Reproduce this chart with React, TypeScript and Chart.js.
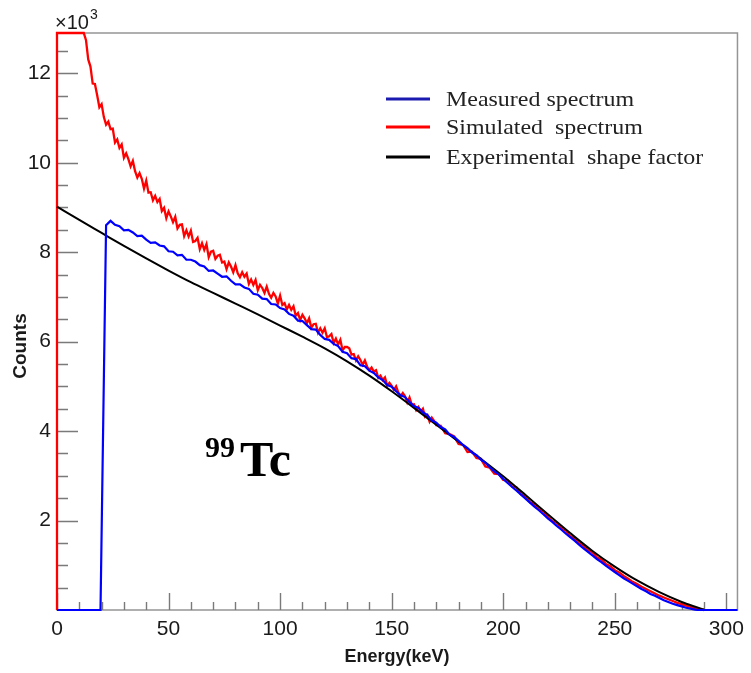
import { useEffect, useRef } from 'react';
import { Chart, registerables } from 'chart.js';

Chart.register(...registerables);

// ---- axis ranges / tick labels ----
const X_MIN = 0;
const X_MAX = 305;
const Y_MIN = 0;
const Y_MAX = 12.9; // ×10^3 counts
const X_TICK_STEP = 50;
const Y_TICK_STEP = 2;

// ---- legend ----
const SERIES_NAMES = ['Measured spectrum', 'Simulated  spectrum', 'Experimental  shape factor'];
const SERIES_COLORS = ['#0000ff', '#ff0000', '#000000'];

// ---- simulated spectrum (red), values in 10^3 counts ----
const RED_HEAD_E = [0, 0, 12];
const RED_HEAD_V = [0, 12.9, 12.9];
const RED_FINE_START = 13; // 1 keV bins
const RED_FINE_STEP = 1;
const RED_FINE = [
  12.74, 12.31, 12.15, 11.77, 11.76, 11.51, 11.24, 11.31, 11.02, 10.85,
  10.92, 10.75, 10.76, 10.45, 10.52, 10.33, 10.41, 10.11, 10.21, 10.08,
  9.92, 10.04, 9.81, 9.67, 9.77, 9.64, 9.42, 9.60, 9.33, 9.34,
  9.16, 9.26, 9.12, 9.19, 8.92, 8.99, 8.76, 8.91, 8.80, 8.67,
  8.79, 8.53, 8.61, 8.62, 8.36, 8.49, 8.35, 8.48, 8.23, 8.25,
  8.32, 8.07, 8.20, 8.05, 8.18, 7.89, 8.01, 8.03, 7.85, 7.92,
  7.94, 7.77, 7.79, 7.62, 7.77, 7.68, 7.55, 7.71, 7.53, 7.44,
  7.55, 7.45, 7.52, 7.29, 7.39, 7.27, 7.38, 7.15, 7.27, 7.20,
  7.09, 7.23, 7.07, 6.98, 7.09, 7.01, 6.85, 7.03, 6.82, 6.86,
  6.72, 6.82, 6.71, 6.79, 6.58, 6.64, 6.48, 6.60, 6.52, 6.41,
  6.52, 6.31, 6.39, 6.40, 6.20, 6.30, 6.20, 6.30, 6.10, 6.12,
  6.17, 5.97, 6.07, 5.94, 6.04, 5.80, 5.88, 5.88, 5.85, 5.71,
  5.72, 5.58, 5.67, 5.59, 5.48, 5.58, 5.44, 5.36, 5.42, 5.33,
  5.36, 5.19, 5.24, 5.14, 5.20, 5.02, 5.08, 5.01, 4.92, 5.00,
  4.86, 4.78, 4.85, 4.78, 4.64, 4.75, 4.59, 4.60, 4.47, 4.54,
  4.44, 4.50, 4.32, 4.36, 4.21, 4.30, 4.23, 4.13,
];
const RED_COARSE_START = 172; // 2 keV bins
const RED_COARSE_STEP = 2;
const RED_COARSE = [
  4.12, 3.95, 3.93, 3.88, 3.71, 3.69, 3.53, 3.54, 3.40, 3.38,
  3.21, 3.18, 3.05, 3.04, 2.91, 2.90, 2.76, 2.74, 2.58, 2.54,
  2.41, 2.37, 2.25, 2.21, 2.08, 1.99, 1.95, 1.83, 1.78, 1.65,
  1.60, 1.49, 1.44, 1.34, 1.29, 1.18, 1.13, 1.03, 0.98, 0.89,
  0.84, 0.76, 0.70, 0.63, 0.58, 0.52, 0.47, 0.42, 0.37, 0.32,
  0.28, 0.24, 0.20, 0.16, 0.13, 0.10, 0.07, 0.04, 0.02, 0.00,
];

// ---- measured spectrum (blue) ----
const BLUE_HEAD_E = [0, 19.5];
const BLUE_HEAD_V = [0, 0];
const BLUE_START = 22; // 2 keV bins
const BLUE_STEP = 2;
const BLUE = [
  8.60, 8.70, 8.61, 8.58, 8.49, 8.50, 8.44, 8.36, 8.37, 8.28,
  8.21, 8.22, 8.15, 8.13, 8.02, 8.01, 7.93, 7.94, 7.83, 7.83,
  7.79, 7.71, 7.68, 7.58, 7.59, 7.52, 7.45, 7.46, 7.36, 7.28,
  7.28, 7.21, 7.18, 7.07, 7.05, 6.96, 6.95, 6.84, 6.83, 6.75,
  6.72, 6.62, 6.58, 6.47, 6.46, 6.37, 6.28, 6.27, 6.15, 6.06,
  6.04, 5.95, 5.90, 5.77, 5.74, 5.63, 5.61, 5.47, 5.45, 5.35,
  5.30, 5.20, 5.14, 5.03, 4.99, 4.89, 4.80, 4.76, 4.65, 4.56,
  4.52, 4.42, 4.36, 4.24, 4.19, 4.09, 4.04, 3.92, 3.87, 3.78,
  3.69, 3.62, 3.52, 3.46, 3.36, 3.29, 3.19, 3.10, 3.03, 2.93,
  2.84, 2.75, 2.67, 2.58, 2.49, 2.40, 2.31, 2.23, 2.14, 2.05,
  1.97, 1.88, 1.80, 1.71, 1.63, 1.55, 1.46, 1.38, 1.30, 1.22,
  1.14, 1.07, 0.99, 0.92, 0.85, 0.78, 0.71, 0.65, 0.59, 0.53,
  0.47, 0.42, 0.36, 0.32, 0.27, 0.22, 0.18, 0.14, 0.11, 0.08,
  0.05, 0.03, 0.01,
];
const BLUE_TAIL_E = [287, 305];
const BLUE_TAIL_V = [0, 0];

// ---- experimental shape factor (black) ----
const BLACK_E = [0, 10, 20, 30, 40, 50, 60, 70, 80, 90, 100, 110, 120, 130, 140, 150, 160, 170, 180, 190, 200, 210, 220, 230, 240, 250, 260, 270, 280, 285, 290];
const BLACK_V = [9.02, 8.72, 8.43, 8.14, 7.86, 7.59, 7.33, 7.09, 6.85, 6.61, 6.36, 6.11, 5.85, 5.56, 5.24, 4.89, 4.52, 4.14, 3.76, 3.38, 2.99, 2.57, 2.14, 1.72, 1.32, 0.97, 0.66, 0.40, 0.18, 0.09, 0.01];

type P = { x: number; y: number };
const pairs = (es: number[], vs: number[]): P[] => vs.map((v, i) => ({ x: es[i], y: v }));
const binned = (start: number, step: number, vs: number[]): P[] => vs.map((v, i) => ({ x: start + i * step, y: v }));

const redData: P[] = [
  ...pairs(RED_HEAD_E, RED_HEAD_V),
  ...binned(RED_FINE_START, RED_FINE_STEP, RED_FINE),
  ...binned(RED_COARSE_START, RED_COARSE_STEP, RED_COARSE),
];
const blueData: P[] = [
  ...pairs(BLUE_HEAD_E, BLUE_HEAD_V),
  ...binned(BLUE_START, BLUE_STEP, BLUE),
  ...pairs(BLUE_TAIL_E, BLUE_TAIL_V),
];
const blackData: P[] = pairs(BLACK_E, BLACK_V);

const FONT_SANS = '"Liberation Sans", Arial, Helvetica, sans-serif';
const FONT_SERIF = '"Liberation Serif", "Times New Roman", serif';
const EDGE_CLIP = { left: 3, top: 3, right: 3, bottom: 3 };

const decoPlugin = {
  id: 'deco',
  beforeDatasetsDraw(chart: any) {
    const { ctx, chartArea: a, scales } = chart;
    const xs = scales.x;
    const ys = scales.y;
    ctx.save();
    // frame
    ctx.strokeStyle = '#959595';
    ctx.lineWidth = 1.5;
    ctx.strokeRect(a.left, a.top, a.right - a.left, a.bottom - a.top);
    // inward ticks
    ctx.strokeStyle = '#7a7a7a';
    ctx.lineWidth = 1.4;
    ctx.beginPath();
    for (let v = X_MIN; v <= 300; v += 10) {
      const px = Math.round(xs.getPixelForValue(v)) + 0.5;
      const len = v % X_TICK_STEP === 0 ? 17 : 8;
      ctx.moveTo(px, a.bottom);
      ctx.lineTo(px, a.bottom - len);
    }
    for (let k = 1; k * 0.5 < Y_MAX; k++) {
      const v = k * 0.5;
      const py = Math.round(ys.getPixelForValue(v)) + 0.5;
      const len = k % 4 === 0 ? 21 : 11;
      ctx.moveTo(a.left, py);
      ctx.lineTo(a.left + len, py);
    }
    ctx.stroke();
    ctx.restore();
  },
  afterDraw(chart: any) {
    const { ctx } = chart;
    ctx.save();
    ctx.fillStyle = '#1a1a1a';
    // ×10^3 multiplier
    ctx.textBaseline = 'alphabetic';
    ctx.textAlign = 'left';
    ctx.font = `20px ${FONT_SANS}`;
    ctx.fillText('×10', 55, 29);
    const w = ctx.measureText('×10').width;
    ctx.font = `14px ${FONT_SANS}`;
    ctx.fillText('3', 55 + w + 1, 19);

    // axis titles
    ctx.font = `bold 18px ${FONT_SANS}`;
    ctx.textAlign = 'center';
    ctx.textBaseline = 'middle';
    ctx.fillText('Energy(keV)', 397, 657);
    ctx.save();
    ctx.translate(21, 346);
    ctx.rotate(-Math.PI / 2);
    ctx.font = `bold 19px ${FONT_SANS}`;
    ctx.fillText('Counts', 0, 0);
    ctx.restore();

    // 99Tc label
    ctx.fillStyle = '#000';
    ctx.textAlign = 'left';
    ctx.textBaseline = 'alphabetic';
    ctx.font = `bold 30px ${FONT_SERIF}`;
    ctx.fillText('99', 205, 457);
    ctx.font = `bold 50px ${FONT_SERIF}`;
    ctx.fillText('Tc', 240, 476);

    // legend
    const rows = [99, 127, 157];
    ctx.font = `21px ${FONT_SERIF}`;
    ctx.textBaseline = 'middle';
    rows.forEach((yy, i) => {
      ctx.strokeStyle = i === 0 ? '#1a1ab0' : SERIES_COLORS[i];
      ctx.lineWidth = 3;
      ctx.beginPath();
      ctx.moveTo(386, yy);
      ctx.lineTo(430, yy);
      ctx.stroke();
      ctx.fillStyle = '#222';
      ctx.save();
      ctx.translate(446, yy + 1);
      ctx.scale(1.14, 1);
      ctx.fillText(SERIES_NAMES[i], 0, 0);
      ctx.restore();
    });
    ctx.restore();
  },
};

export default function App() {
  const ref = useRef<HTMLCanvasElement | null>(null);
  useEffect(() => {
    if (!ref.current) return;
    const chart = new Chart(ref.current, {
      type: 'line',
      data: {
        datasets: [
          {
            label: SERIES_NAMES[0],
            data: blueData,
            borderColor: SERIES_COLORS[0],
            borderWidth: 2.2,
            pointRadius: 0,
            tension: 0,
            clip: EDGE_CLIP,
            order: 1,
          },
          {
            label: SERIES_NAMES[1],
            data: redData,
            borderColor: SERIES_COLORS[1],
            borderWidth: 2.3,
            pointRadius: 0,
            tension: 0,
            clip: EDGE_CLIP,
            order: 3,
          },
          {
            label: SERIES_NAMES[2],
            data: blackData,
            borderColor: SERIES_COLORS[2],
            borderWidth: 2,
            pointRadius: 0,
            cubicInterpolationMode: 'monotone',
            clip: EDGE_CLIP,
            order: 2,
          },
        ],
      },
      options: {
        animation: false,
        responsive: false,
        devicePixelRatio: 1,
        layout: { padding: { top: 33, right: 10, left: 0, bottom: 0 } },
        plugins: { legend: { display: false }, tooltip: { enabled: false } },
        scales: {
          x: {
            type: 'linear',
            min: X_MIN,
            max: X_MAX,
            grid: { display: false, drawTicks: false },
            border: { display: false },
            ticks: {
              stepSize: X_TICK_STEP,
              includeBounds: false,
              maxRotation: 0,
              padding: 7,
              color: '#1a1a1a',
              font: { family: FONT_SANS, size: 21 },
            },
            afterFit: (s: any) => { s.height = 63; },
          },
          y: {
            type: 'linear',
            min: Y_MIN,
            max: Y_MAX,
            grid: { display: false, drawTicks: false },
            border: { display: false },
            ticks: {
              stepSize: Y_TICK_STEP,
              includeBounds: false,
              padding: 6,
              color: '#1a1a1a',
              font: { family: FONT_SANS, size: 21 },
              callback: (v: any) => (Number(v) === 0 ? '' : String(v)),
            },
            afterFit: (s: any) => { s.width = 57; },
          },
        },
      },
      plugins: [decoPlugin],
    });
    return () => chart.destroy();
  }, []);
  return (
    <div style={{ position: 'fixed', left: 0, top: 0, width: 751, height: 673, background: '#fff' }}>
      <canvas ref={ref} width={751} height={673} style={{ width: 751, height: 673 }} />
    </div>
  );
}
